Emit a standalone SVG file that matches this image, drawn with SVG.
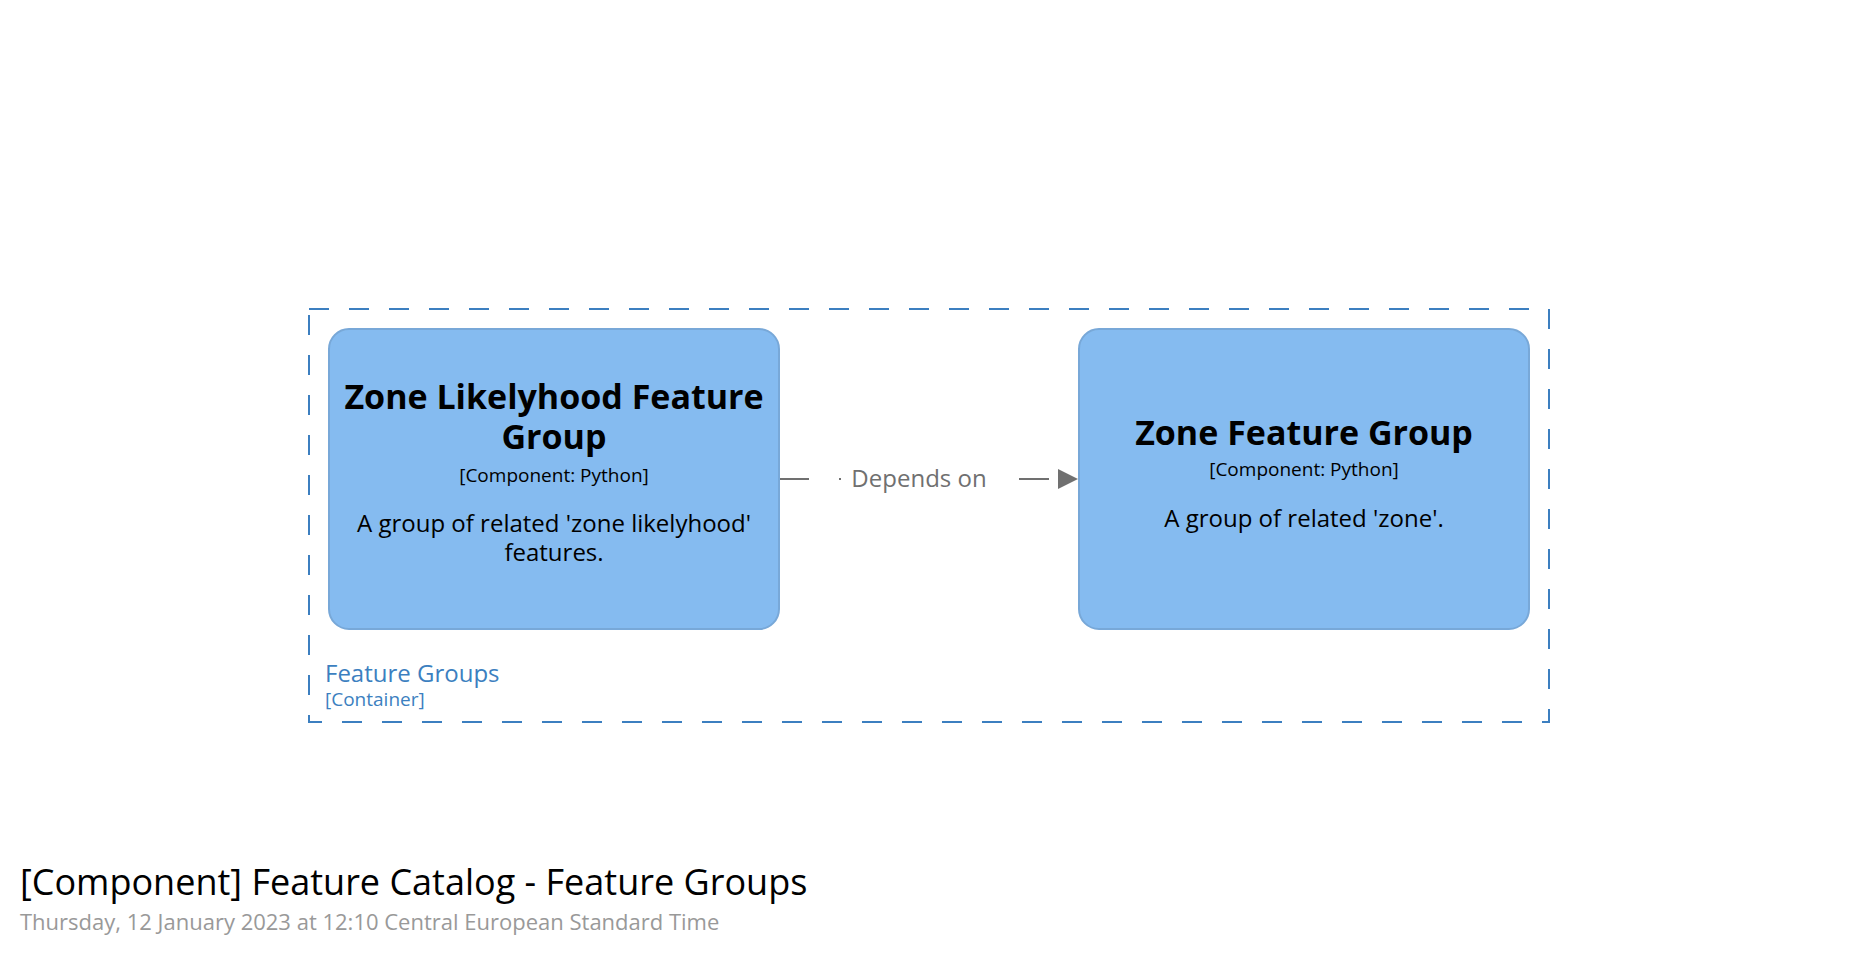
<svg xmlns="http://www.w3.org/2000/svg" width="1858" height="958" viewBox="0 0 1858 958">
<style>
text{font-family:"Open Sans","Noto Sans","Liberation Sans",sans-serif}
.box{fill:#85bbf0;stroke:#78a8d8;stroke-width:2}
.nt{font-size:34px;font-weight:bold;fill:#000;text-anchor:middle}
.nm{font-size:19px;fill:#000;text-anchor:middle}
.nd{font-size:24px;fill:#000;text-anchor:middle}
.rel{stroke:#707070;stroke-width:2;fill:none;stroke-dasharray:30 30}
.rl{font-size:24px;fill:#707070;text-anchor:middle}
</style>
<defs>
<marker id="arrow" markerWidth="20" markerHeight="20" refX="20" refY="10" orient="auto" markerUnits="userSpaceOnUse">
<path d="M0,0 L20,10 L0,20 Z" fill="#707070"/>
</marker>
</defs>
<rect width="1858" height="958" fill="#ffffff"/>
<g id="boundary-feature-groups">
<rect x="309" y="309" width="1240" height="413" fill="none" stroke="#3c7fc0" stroke-width="2" stroke-dasharray="20 20"/>
<text x="325" y="682" font-size="24" fill="#3c7fc0">Feature Groups</text>
<text x="325" y="706" font-size="19" fill="#3c7fc0">[Container]</text>
</g>
<g id="connectors">
<path class="rel" d="M779,479 L1078,479" marker-end="url(#arrow)"/>
<rect x="841" y="462" width="156" height="34" fill="#ffffff"/>
<text class="rl" x="919" y="487">Depends on</text>
</g>
<g id="node-zone-likelyhood">
<rect class="box" x="329" y="329" width="450" height="300" rx="20" ry="20"/>
<text class="nt" x="554" y="409">Zone Likelyhood Feature</text>
<text class="nt" x="554" y="449">Group</text>
<text class="nm" x="554" y="482">[Component: Python]</text>
<text class="nd" x="554" y="532">A group of related 'zone likelyhood'</text>
<text class="nd" x="554" y="561">features.</text>
</g>
<g id="node-zone">
<rect class="box" x="1079" y="329" width="450" height="300" rx="20" ry="20"/>
<text class="nt" x="1304" y="445">Zone Feature Group</text>
<text class="nm" x="1304" y="476">[Component: Python]</text>
<text class="nd" x="1304" y="527">A group of related 'zone'.</text>
</g>
<g id="title">
<text x="20" y="895" font-size="36" fill="#000">[Component] Feature Catalog - Feature Groups</text>
<text x="20" y="930" font-size="22" fill="#999999">Thursday, 12 January 2023 at 12:10 Central European Standard Time</text>
</g>
</svg>
